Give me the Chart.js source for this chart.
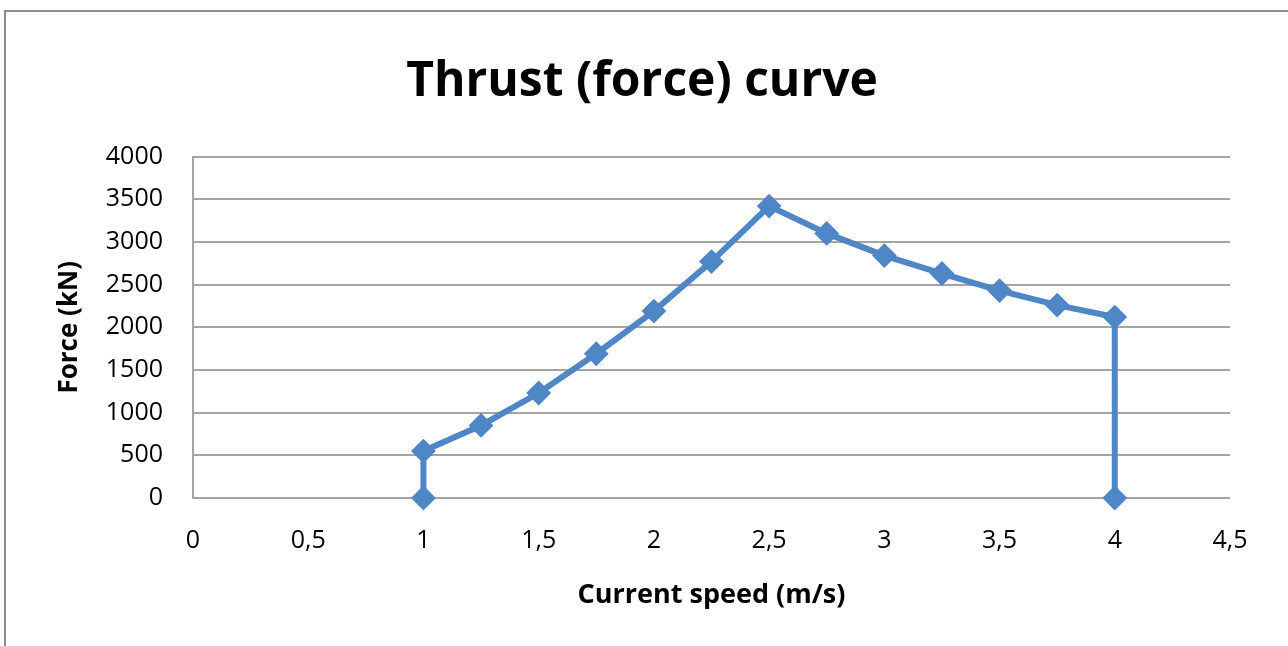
<!DOCTYPE html>
<html>
<head>
<meta charset="utf-8">
<title>Thrust (force) curve</title>
<script src="https://cdn.jsdelivr.net/npm/chart.js@4/dist/chart.umd.min.js"></script>
<style>
  html, body { margin: 0; padding: 0; background: #fff; }
  #wrap { position: relative; width: 1288px; height: 646px; overflow: hidden; }
  #frame {
    position: absolute; left: 4px; top: 10px; width: 1400px; height: 800px;
    border-left: 2px solid #8c8c8c; border-top: 2px solid #8c8c8c;
  }
  canvas { position: absolute; left: 0; top: 0; }
</style>
</head>
<body>
<div id="wrap">
  <div id="frame"></div>
  <canvas id="thrustChart" width="1288" height="646"></canvas>
</div>
<script>
// Current speed (m/s) and force (kN)
const speeds = [1, 1, 1.25, 1.5, 1.75, 2, 2.25, 2.5, 2.75, 3, 3.25, 3.5, 3.75, 4, 4];
const forces = [0, 550, 850, 1230, 1690, 2190, 2770, 3420, 3100, 2840, 2630, 2430, 2260, 2120, 0];
const xTicks = [0, 0.5, 1, 1.5, 2, 2.5, 3, 3.5, 4, 4.5];
const yTicks = [0, 500, 1000, 1500, 2000, 2500, 3000, 3500, 4000];

const lineBlue = "#4f86c6";
const gridGray = "#a4a4a4";
const font = "'Open Sans', 'DejaVu Sans', sans-serif";

document.addEventListener("DOMContentLoaded", function () {
  renderThrustChart();
});

function renderThrustChart() {
  const ctx = document.getElementById("thrustChart").getContext("2d");

  const points = speeds.map(function (s, i) {
    return { x: s, y: forces[i] };
  });

  new Chart(ctx, {
    type: "line",
    data: {
      datasets: [
        {
          label: "Force (kN)",
          data: points,
          borderColor: lineBlue,
          backgroundColor: lineBlue,
          borderWidth: 6,
          pointStyle: "rectRot",
          pointRadius: 11,
          pointBorderWidth: 2,
          pointBorderColor: lineBlue,
          pointBackgroundColor: lineBlue,
          tension: 0,
          clip: false,
        },
      ],
    },
    options: {
      responsive: false,
      animation: false,
      layout: { padding: { left: 54, right: 58, top: 0, bottom: 0 } },
      plugins: {
        legend: { display: false },
        tooltip: { enabled: false },
        title: {
          display: true,
          text: "Thrust (force) curve",
          color: "#000",
          font: { family: font, size: 48, weight: "bold" },
          padding: { top: 54, bottom: 45 },
        },
      },
      scales: {
        x: {
          type: "linear",
          min: 0,
          max: 4.5,
          afterBuildTicks: function (scale) {
            scale.ticks = xTicks.map(function (v) { return { value: v }; });
          },
          afterFit: function (scale) {
            scale.height = 148;
          },
          grid: { display: false, drawTicks: false },
          border: { display: false },
          ticks: {
            color: "#000",
            padding: 28,
            font: { family: font, size: 25 },
            callback: function (v) {
              return String(v).replace(".", ",");
            },
          },
          title: {
            display: true,
            text: "Current speed (m/s)",
            color: "#000",
            font: { family: font, size: 27, weight: "bold" },
            padding: { top: 0, bottom: 34 },
          },
        },
        y: {
          min: 0,
          max: 4000,
          afterBuildTicks: function (scale) {
            scale.ticks = yTicks.map(function (v) { return { value: v }; });
          },
          afterFit: function (scale) {
            scale.width = 139;
          },
          grid: { color: gridGray, lineWidth: 2, drawTicks: false },
          border: { display: true, color: gridGray, width: 2 },
          ticks: {
            color: "#000",
            padding: 30,
            font: { family: font, size: 25 },
            callback: function (v) {
              return String(v);
            },
          },
          title: {
            display: true,
            text: "Force (kN)",
            color: "#000",
            font: { family: font, size: 26, weight: "bold" },
            padding: { top: 0, bottom: 0 },
          },
        },
      },
    },
  });
}
</script>
</body>
</html>
